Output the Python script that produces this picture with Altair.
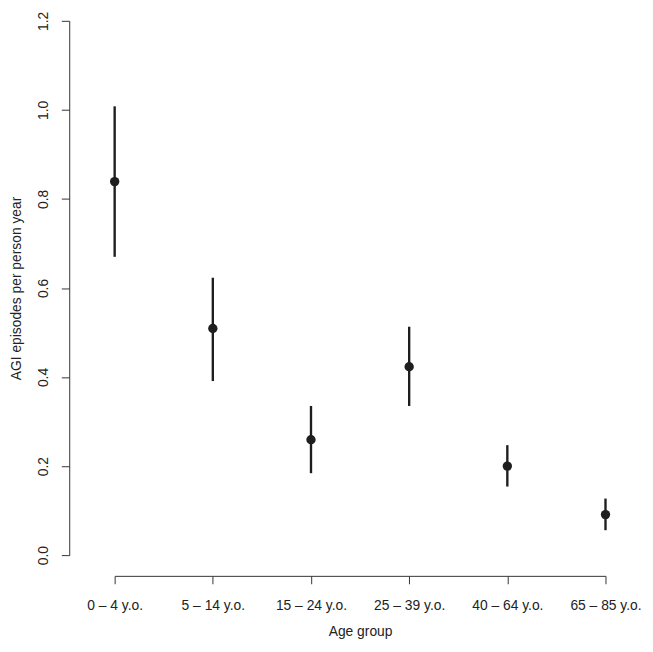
import altair as alt
import pandas as pd

age_groups = ["0 – 4 y.o.", "5 – 14 y.o.", "15 – 24 y.o.", "25 – 39 y.o.", "40 – 64 y.o.", "65 – 85 y.o."]
rate = [0.839, 0.509, 0.259, 0.423, 0.200, 0.091]
lower = [0.670, 0.391, 0.184, 0.335, 0.154, 0.056]
upper = [1.008, 0.623, 0.335, 0.513, 0.247, 0.127]

df = pd.DataFrame({"age": age_groups, "rate": rate, "lower": lower, "upper": upper})

FONT = "Liberation Sans"
INK = "#1e1e1e"

x_enc = alt.X(
    "age:N",
    sort=age_groups,
    scale=alt.Scale(type="point", padding=0),
    axis=alt.Axis(
        title="Age group",
        labelAngle=0,
        offset=21,
        tickSize=8,
        labelPadding=15,
        titlePadding=12,
        grid=False,
    ),
)
y_scale = alt.Scale(domain=[0, 1.2], nice=False, zero=False)
y_axis = alt.Axis(
    title="AGI episodes per person year",
    values=[0, 0.2, 0.4, 0.6, 0.8, 1.0, 1.2],
    format=".1f",
    labelAngle=270,
    labelAlign="center",
    labelBaseline="bottom",
    offset=46,
    tickSize=8,
    labelPadding=11,
    titlePadding=13,
    grid=False,
)

bars = alt.Chart(df).mark_rule(color=INK, strokeWidth=2.4).encode(
    x=x_enc,
    y=alt.Y("lower:Q", scale=y_scale, axis=y_axis),
    y2="upper:Q",
)
points = alt.Chart(df).mark_point(filled=True, color=INK, size=90, opacity=1).encode(
    x=x_enc,
    y=alt.Y("rate:Q", scale=y_scale, axis=y_axis),
)

chart = (
    alt.layer(bars, points)
    .properties(
        width=497,
        height=541,
        autosize=alt.AutoSizeParams(type="none"),
        padding={"left": 108, "top": 9, "right": 40, "bottom": 86},
    )
    .configure_view(stroke=None)
    .configure_axis(
        labelFont=FONT,
        titleFont=FONT,
        labelFontSize=14,
        titleFontSize=14,
        labelColor="#222",
        titleColor="#222",
        titleFontWeight="normal",
        domainColor="#333",
        tickColor="#333",
        domainWidth=1,
        tickWidth=1,
    )
)

chart.save("out.html", embed_options={"renderer": "svg", "actions": False})
